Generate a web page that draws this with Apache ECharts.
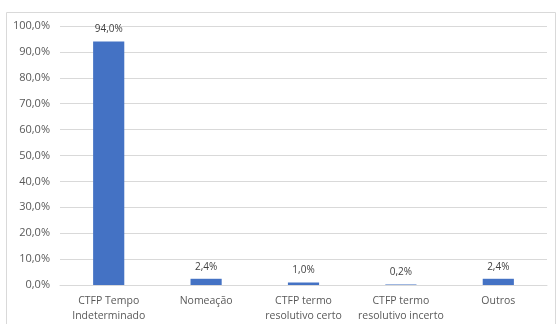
<!DOCTYPE html>
<html><head><meta charset="utf-8">
<script src="https://cdn.jsdelivr.net/npm/echarts@6/dist/echarts.min.js"></script>
<style>html,body{margin:0;padding:0;background:#fff}#c{width:557px;height:324px}</style>
</head><body><div id="c"></div>
<script>
const categories = ['CTFP Tempo\nIndeterminado', 'Nomeação', 'CTFP termo\nresolutivo certo', 'CTFP termo\nresolutivo incerto', 'Outros'];
const values = [94.0, 2.4, 1.0, 0.2, 2.4];
const chart = echarts.init(document.getElementById('c'), null, {renderer: 'canvas'});
const fmt = v => v.toFixed(1).replace('.', ',') + '%';
chart.setOption({
  animation: false,
  graphic: [{type: 'rect', shape: {x: 6.5, y: 12.5, width: 549, height: 330}, style: {fill: 'none', stroke: '#d9d9d9', lineWidth: 1}, silent: true}],
  grid: {left: 60, right: 10, top: 26, bottom: 37},
  xAxis: {
    type: 'category', data: categories,
    axisLine: {lineStyle: {color: '#d9d9d9'}}, axisTick: {show: false},
    axisLabel: {color: '#595959', fontFamily: 'Open Sans', fontSize: 10.5, lineHeight: 15, margin: 9, interval: 0}
  },
  yAxis: {
    type: 'value', min: 0, max: 100, interval: 10,
    axisLabel: {formatter: fmt, color: '#595959', fontFamily: 'Open Sans', fontSize: 11, margin: 10},
    splitLine: {lineStyle: {color: '#d9d9d9'}}, axisLine: {show: false}, axisTick: {show: false}
  },
  series: [{
    type: 'bar', data: values, barWidth: '32%',
    itemStyle: {color: '#4472C4'},
    label: {show: true, position: 'top', distance: 7, formatter: p => fmt(p.value), color: '#404040', fontFamily: 'Open Sans', fontSize: 10}
  }]
});
</script></body></html>
